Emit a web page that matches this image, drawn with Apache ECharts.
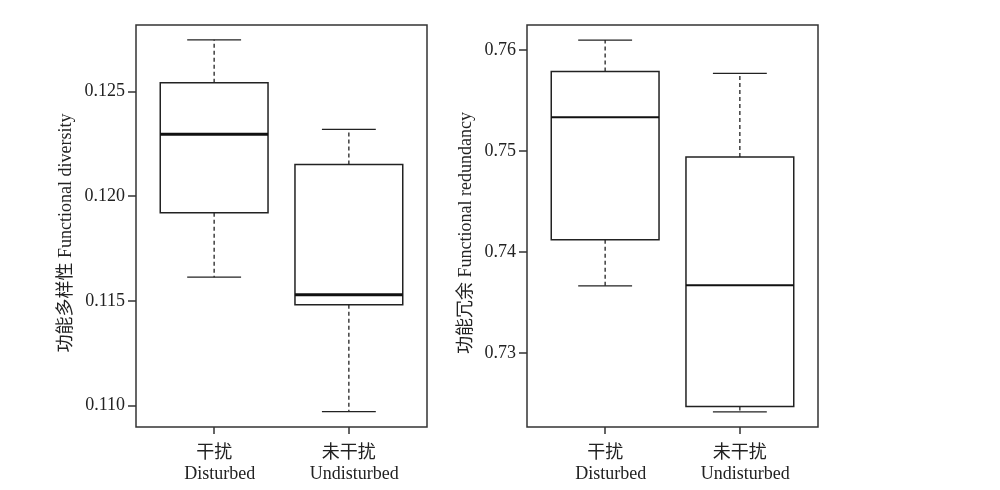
<!DOCTYPE html>
<html>
<head>
<meta charset="utf-8">
<script src="https://cdn.jsdelivr.net/npm/echarts@6/dist/echarts.min.js"></script>
<style>html,body{margin:0;padding:0;background:#fff}#c{width:1000px;height:490px}</style>
</head>
<body>
<div id="c"></div>
<script>
// Categories
var catCN = ['干扰', '未干扰'];
var catEN = ['Disturbed', 'Undisturbed'];
var catPos = [1, 2];
// Box stats: [min, Q1, median, Q3, max]
var fdDisturbed = [0.11613, 0.11921, 0.12295, 0.12541, 0.12746];
var fdUndisturbed = [0.10971, 0.11481, 0.11529, 0.12151, 0.12319];
var frDisturbed = [0.73667, 0.74123, 0.75334, 0.75789, 0.76099];
var frUndisturbed = [0.72419, 0.72472, 0.73673, 0.74941, 0.75769];
// Tick labels
var fdTicks = [0.110, 0.115, 0.120, 0.125];
var frTicks = [0.73, 0.74, 0.75, 0.76];
var fdTitle = '功能多样性 Functional diversity';
var frTitle = '功能冗余 Functional redundancy';

var FONT = '"Liberation Serif", "Noto Sans CJK SC", serif';
var INK = '#222';

function makeRender(medW) {
  return function (params, api) {
    var x = api.value(0);
    var lo = api.value(1), q1 = api.value(2), md = api.value(3), q3 = api.value(4), hi = api.value(5);
    var hw = 0.4, cw = 0.2;
    var tl = api.coord([x - hw, q3]);
    var br = api.coord([x + hw, q1]);
    var pHi = api.coord([x, hi]), pQ3 = api.coord([x, q3]), pQ1 = api.coord([x, q1]), pLo = api.coord([x, lo]);
    var cHiL = api.coord([x - cw, hi]), cHiR = api.coord([x + cw, hi]);
    var cLoL = api.coord([x - cw, lo]), cLoR = api.coord([x + cw, lo]);
    var mL = api.coord([x - hw, md]), mR = api.coord([x + hw, md]);
    var solid = {stroke: INK, lineWidth: 1.3, fill: null};
    var dashed = {stroke: INK, lineWidth: 1.3, lineDash: [4, 3], fill: null};
    return {
      type: 'group',
      children: [
        {type: 'line', shape: {x1: pQ3[0], y1: pQ3[1], x2: pHi[0], y2: pHi[1]}, style: dashed},
        {type: 'line', shape: {x1: pQ1[0], y1: pQ1[1], x2: pLo[0], y2: pLo[1]}, style: dashed},
        {type: 'line', shape: {x1: cHiL[0], y1: cHiL[1], x2: cHiR[0], y2: cHiR[1]}, style: solid},
        {type: 'line', shape: {x1: cLoL[0], y1: cLoL[1], x2: cLoR[0], y2: cLoR[1]}, style: solid},
        {type: 'rect', shape: {x: tl[0], y: tl[1], width: br[0] - tl[0], height: br[1] - tl[1]},
          style: {stroke: INK, lineWidth: 1.5, fill: '#fff'}},
        {type: 'line', shape: {x1: mL[0], y1: mL[1], x2: mR[0], y2: mR[1]}, style: {stroke: '#111', lineWidth: medW}}
      ]
    };
  };
}

function xAxisFor(gi) {
  return {
    type: 'value', gridIndex: gi, min: 0.42, max: 2.58,
    axisLine: {show: false},
    splitLine: {show: false},
    axisTick: {show: true, customValues: catPos, length: 7, inside: false, lineStyle: {color: '#333', width: 1.5}},
    axisLabel: {
      customValues: catPos, margin: 16,
      formatter: function (v) {
        var i = catPos.indexOf(Math.round(v));
        return '{cn|' + catCN[i] + '}\n{en|' + catEN[i] + '}';
      },
      rich: {
        cn: {fontFamily: FONT, fontSize: 18, lineHeight: 21, color: INK},
        en: {fontFamily: FONT, fontSize: 18, lineHeight: 21, color: INK, padding: [0, 0, 0, 11]}
      }
    }
  };
}

function yAxisFor(gi, min, max, ticks, digits, title, gap) {
  return {
    type: 'value', gridIndex: gi, min: min, max: max,
    name: title, nameLocation: 'middle', nameRotate: 90, nameGap: gap,
    nameTextStyle: {fontFamily: FONT, fontSize: 18, color: INK, padding: [0, 14, 0, 0]},
    axisLine: {show: false},
    splitLine: {show: false},
    axisTick: {show: true, customValues: ticks, length: 8, inside: false, lineStyle: {color: '#333', width: 1.5}},
    axisLabel: {
      customValues: ticks, margin: 11, fontFamily: FONT, fontSize: 18, color: INK,
      formatter: function (v) { return v.toFixed(digits); }
    }
  };
}

var chart = echarts.init(document.getElementById('c'), null, {renderer: 'canvas'});
chart.setOption({
  backgroundColor: '#fff',
  animation: false,
  grid: [
    {left: 136, top: 25, width: 291, height: 402, show: true, borderColor: '#333', borderWidth: 1.5, backgroundColor: 'transparent'},
    {left: 527, top: 25, width: 291, height: 402, show: true, borderColor: '#333', borderWidth: 1.5, backgroundColor: 'transparent'}
  ],
  xAxis: [xAxisFor(0), xAxisFor(1)],
  yAxis: [
    yAxisFor(0, 0.10898, 0.12817, fdTicks, 3, fdTitle, 61),
    yAxisFor(1, 0.72270, 0.76248, frTicks, 2, frTitle, 52)
  ],
  series: [
    {type: 'custom', xAxisIndex: 0, yAxisIndex: 0, renderItem: makeRender(3),
      encode: {x: 0, y: [1, 2, 3, 4, 5]},
      data: [[catPos[0]].concat(fdDisturbed), [catPos[1]].concat(fdUndisturbed)]},
    {type: 'custom', xAxisIndex: 1, yAxisIndex: 1, renderItem: makeRender(2),
      encode: {x: 0, y: [1, 2, 3, 4, 5]},
      data: [[catPos[0]].concat(frDisturbed), [catPos[1]].concat(frUndisturbed)]}
  ]
});
</script>
</body>
</html>
